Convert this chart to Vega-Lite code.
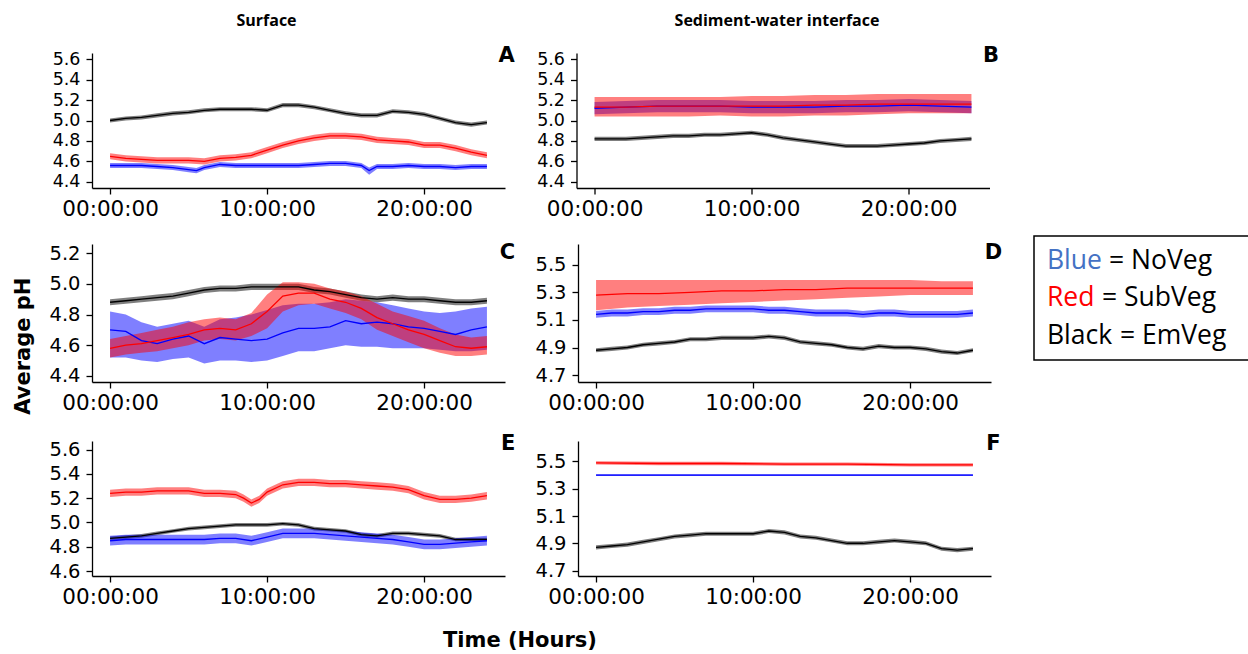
{
"$schema":"https://vega.github.io/schema/vega-lite/v6.json",
"padding":{"left":12,"top":12,"right":0,"bottom":0},
"background":"#ffffff",
"config":{
 "view":{"stroke":null},
 "axis":{"grid":false,"domainColor":"#000000","domainWidth":1.3,"tickColor":"#000000","tickWidth":1.3,"tickSize":6,"labelFont":"DejaVu Sans","labelFontSize":21.5,"labelColor":"#000000","labelOverlap":false,"labelFlush":false,"labelBound":false},
 "axisX":{"labelPadding":4},
 "axisY":{"labelPadding":6,"labelFontSize":19.5}
},
"datasets":{
"L":[{"p":"A"},{"p":"B"},{"p":"C"},{"p":"D"},{"p":"E"},{"p":"F"}],
"leg":[{"row":1,"word":"Blue","rest":"= NoVeg"},{"row":2,"word":"Red","rest":"= SubVeg"},{"row":3,"word":"Black","rest":"= EmVeg"}],
"d":[
{"p":"A","s":"EmVeg","t":0,"m":5.00,"lo":4.98,"hi":5.02},
{"p":"A","s":"EmVeg","t":1,"m":5.02,"lo":5.00,"hi":5.04},
{"p":"A","s":"EmVeg","t":2,"m":5.03,"lo":5.01,"hi":5.05},
{"p":"A","s":"EmVeg","t":3,"m":5.05,"lo":5.03,"hi":5.07},
{"p":"A","s":"EmVeg","t":4,"m":5.07,"lo":5.05,"hi":5.09},
{"p":"A","s":"EmVeg","t":5,"m":5.08,"lo":5.06,"hi":5.10},
{"p":"A","s":"EmVeg","t":6,"m":5.10,"lo":5.08,"hi":5.12},
{"p":"A","s":"EmVeg","t":7,"m":5.11,"lo":5.09,"hi":5.13},
{"p":"A","s":"EmVeg","t":8,"m":5.11,"lo":5.09,"hi":5.13},
{"p":"A","s":"EmVeg","t":9,"m":5.11,"lo":5.09,"hi":5.13},
{"p":"A","s":"EmVeg","t":10,"m":5.10,"lo":5.08,"hi":5.12},
{"p":"A","s":"EmVeg","t":11,"m":5.15,"lo":5.13,"hi":5.17},
{"p":"A","s":"EmVeg","t":12,"m":5.15,"lo":5.13,"hi":5.17},
{"p":"A","s":"EmVeg","t":13,"m":5.13,"lo":5.11,"hi":5.15},
{"p":"A","s":"EmVeg","t":14,"m":5.10,"lo":5.08,"hi":5.12},
{"p":"A","s":"EmVeg","t":15,"m":5.07,"lo":5.05,"hi":5.09},
{"p":"A","s":"EmVeg","t":16,"m":5.05,"lo":5.03,"hi":5.07},
{"p":"A","s":"EmVeg","t":17,"m":5.05,"lo":5.03,"hi":5.07},
{"p":"A","s":"EmVeg","t":18,"m":5.09,"lo":5.07,"hi":5.11},
{"p":"A","s":"EmVeg","t":19,"m":5.08,"lo":5.06,"hi":5.10},
{"p":"A","s":"EmVeg","t":20,"m":5.06,"lo":5.04,"hi":5.08},
{"p":"A","s":"EmVeg","t":21,"m":5.02,"lo":5.00,"hi":5.04},
{"p":"A","s":"EmVeg","t":22,"m":4.98,"lo":4.96,"hi":5.00},
{"p":"A","s":"EmVeg","t":23,"m":4.96,"lo":4.94,"hi":4.98},
{"p":"A","s":"EmVeg","t":24,"m":4.98,"lo":4.96,"hi":5.00},
{"p":"A","s":"NoVeg","t":0,"m":4.56,"lo":4.535,"hi":4.585},
{"p":"A","s":"NoVeg","t":1,"m":4.56,"lo":4.535,"hi":4.585},
{"p":"A","s":"NoVeg","t":2,"m":4.56,"lo":4.535,"hi":4.585},
{"p":"A","s":"NoVeg","t":3,"m":4.55,"lo":4.525,"hi":4.575},
{"p":"A","s":"NoVeg","t":4,"m":4.54,"lo":4.515,"hi":4.565},
{"p":"A","s":"NoVeg","t":5,"m":4.52,"lo":4.495,"hi":4.545},
{"p":"A","s":"NoVeg","t":5.5,"m":4.51,"lo":4.485,"hi":4.535},
{"p":"A","s":"NoVeg","t":6,"m":4.54,"lo":4.515,"hi":4.565},
{"p":"A","s":"NoVeg","t":7,"m":4.57,"lo":4.545,"hi":4.595},
{"p":"A","s":"NoVeg","t":8,"m":4.56,"lo":4.535,"hi":4.585},
{"p":"A","s":"NoVeg","t":9,"m":4.56,"lo":4.535,"hi":4.585},
{"p":"A","s":"NoVeg","t":10,"m":4.56,"lo":4.535,"hi":4.585},
{"p":"A","s":"NoVeg","t":11,"m":4.56,"lo":4.535,"hi":4.585},
{"p":"A","s":"NoVeg","t":12,"m":4.56,"lo":4.535,"hi":4.585},
{"p":"A","s":"NoVeg","t":13,"m":4.57,"lo":4.545,"hi":4.595},
{"p":"A","s":"NoVeg","t":14,"m":4.58,"lo":4.555,"hi":4.605},
{"p":"A","s":"NoVeg","t":15,"m":4.58,"lo":4.555,"hi":4.605},
{"p":"A","s":"NoVeg","t":16,"m":4.56,"lo":4.535,"hi":4.585},
{"p":"A","s":"NoVeg","t":16.5,"m":4.51,"lo":4.47,"hi":4.54},
{"p":"A","s":"NoVeg","t":17,"m":4.55,"lo":4.525,"hi":4.575},
{"p":"A","s":"NoVeg","t":18,"m":4.55,"lo":4.525,"hi":4.575},
{"p":"A","s":"NoVeg","t":19,"m":4.56,"lo":4.535,"hi":4.585},
{"p":"A","s":"NoVeg","t":20,"m":4.55,"lo":4.525,"hi":4.575},
{"p":"A","s":"NoVeg","t":21,"m":4.55,"lo":4.525,"hi":4.575},
{"p":"A","s":"NoVeg","t":22,"m":4.54,"lo":4.515,"hi":4.565},
{"p":"A","s":"NoVeg","t":23,"m":4.55,"lo":4.525,"hi":4.575},
{"p":"A","s":"NoVeg","t":24,"m":4.55,"lo":4.525,"hi":4.575},
{"p":"A","s":"SubVeg","t":0,"m":4.65,"lo":4.62,"hi":4.68},
{"p":"A","s":"SubVeg","t":1,"m":4.63,"lo":4.60,"hi":4.66},
{"p":"A","s":"SubVeg","t":2,"m":4.62,"lo":4.59,"hi":4.65},
{"p":"A","s":"SubVeg","t":3,"m":4.61,"lo":4.58,"hi":4.64},
{"p":"A","s":"SubVeg","t":4,"m":4.61,"lo":4.58,"hi":4.64},
{"p":"A","s":"SubVeg","t":5,"m":4.61,"lo":4.58,"hi":4.64},
{"p":"A","s":"SubVeg","t":6,"m":4.60,"lo":4.57,"hi":4.63},
{"p":"A","s":"SubVeg","t":7,"m":4.63,"lo":4.60,"hi":4.66},
{"p":"A","s":"SubVeg","t":8,"m":4.64,"lo":4.61,"hi":4.67},
{"p":"A","s":"SubVeg","t":9,"m":4.66,"lo":4.63,"hi":4.69},
{"p":"A","s":"SubVeg","t":10,"m":4.71,"lo":4.68,"hi":4.74},
{"p":"A","s":"SubVeg","t":11,"m":4.76,"lo":4.73,"hi":4.79},
{"p":"A","s":"SubVeg","t":12,"m":4.80,"lo":4.77,"hi":4.83},
{"p":"A","s":"SubVeg","t":13,"m":4.83,"lo":4.80,"hi":4.86},
{"p":"A","s":"SubVeg","t":14,"m":4.85,"lo":4.82,"hi":4.88},
{"p":"A","s":"SubVeg","t":15,"m":4.85,"lo":4.82,"hi":4.88},
{"p":"A","s":"SubVeg","t":16,"m":4.84,"lo":4.81,"hi":4.87},
{"p":"A","s":"SubVeg","t":17,"m":4.81,"lo":4.78,"hi":4.84},
{"p":"A","s":"SubVeg","t":18,"m":4.80,"lo":4.77,"hi":4.83},
{"p":"A","s":"SubVeg","t":19,"m":4.79,"lo":4.76,"hi":4.82},
{"p":"A","s":"SubVeg","t":20,"m":4.76,"lo":4.73,"hi":4.79},
{"p":"A","s":"SubVeg","t":21,"m":4.76,"lo":4.73,"hi":4.79},
{"p":"A","s":"SubVeg","t":22,"m":4.73,"lo":4.70,"hi":4.76},
{"p":"A","s":"SubVeg","t":23,"m":4.69,"lo":4.66,"hi":4.72},
{"p":"A","s":"SubVeg","t":24,"m":4.66,"lo":4.63,"hi":4.69},
{"p":"B","s":"EmVeg","t":0,"m":4.82,"lo":4.80,"hi":4.84},
{"p":"B","s":"EmVeg","t":1,"m":4.82,"lo":4.80,"hi":4.84},
{"p":"B","s":"EmVeg","t":2,"m":4.82,"lo":4.80,"hi":4.84},
{"p":"B","s":"EmVeg","t":3,"m":4.83,"lo":4.81,"hi":4.85},
{"p":"B","s":"EmVeg","t":4,"m":4.84,"lo":4.82,"hi":4.86},
{"p":"B","s":"EmVeg","t":5,"m":4.85,"lo":4.83,"hi":4.87},
{"p":"B","s":"EmVeg","t":6,"m":4.85,"lo":4.83,"hi":4.87},
{"p":"B","s":"EmVeg","t":7,"m":4.86,"lo":4.84,"hi":4.88},
{"p":"B","s":"EmVeg","t":8,"m":4.86,"lo":4.84,"hi":4.88},
{"p":"B","s":"EmVeg","t":9,"m":4.87,"lo":4.85,"hi":4.89},
{"p":"B","s":"EmVeg","t":10,"m":4.88,"lo":4.86,"hi":4.90},
{"p":"B","s":"EmVeg","t":11,"m":4.86,"lo":4.84,"hi":4.88},
{"p":"B","s":"EmVeg","t":12,"m":4.83,"lo":4.81,"hi":4.85},
{"p":"B","s":"EmVeg","t":13,"m":4.81,"lo":4.79,"hi":4.83},
{"p":"B","s":"EmVeg","t":14,"m":4.79,"lo":4.77,"hi":4.81},
{"p":"B","s":"EmVeg","t":15,"m":4.77,"lo":4.75,"hi":4.79},
{"p":"B","s":"EmVeg","t":16,"m":4.75,"lo":4.73,"hi":4.77},
{"p":"B","s":"EmVeg","t":17,"m":4.75,"lo":4.73,"hi":4.77},
{"p":"B","s":"EmVeg","t":18,"m":4.75,"lo":4.73,"hi":4.77},
{"p":"B","s":"EmVeg","t":19,"m":4.76,"lo":4.74,"hi":4.78},
{"p":"B","s":"EmVeg","t":20,"m":4.77,"lo":4.75,"hi":4.79},
{"p":"B","s":"EmVeg","t":21,"m":4.78,"lo":4.76,"hi":4.80},
{"p":"B","s":"EmVeg","t":22,"m":4.80,"lo":4.78,"hi":4.82},
{"p":"B","s":"EmVeg","t":23,"m":4.81,"lo":4.79,"hi":4.83},
{"p":"B","s":"EmVeg","t":24,"m":4.82,"lo":4.80,"hi":4.84},
{"p":"B","s":"NoVeg","t":0,"m":5.12,"lo":5.06,"hi":5.18},
{"p":"B","s":"NoVeg","t":2,"m":5.13,"lo":5.07,"hi":5.19},
{"p":"B","s":"NoVeg","t":4,"m":5.14,"lo":5.08,"hi":5.20},
{"p":"B","s":"NoVeg","t":6,"m":5.14,"lo":5.08,"hi":5.20},
{"p":"B","s":"NoVeg","t":8,"m":5.14,"lo":5.08,"hi":5.20},
{"p":"B","s":"NoVeg","t":10,"m":5.13,"lo":5.07,"hi":5.19},
{"p":"B","s":"NoVeg","t":12,"m":5.13,"lo":5.07,"hi":5.19},
{"p":"B","s":"NoVeg","t":14,"m":5.13,"lo":5.07,"hi":5.19},
{"p":"B","s":"NoVeg","t":16,"m":5.14,"lo":5.08,"hi":5.20},
{"p":"B","s":"NoVeg","t":18,"m":5.14,"lo":5.08,"hi":5.20},
{"p":"B","s":"NoVeg","t":20,"m":5.15,"lo":5.09,"hi":5.21},
{"p":"B","s":"NoVeg","t":22,"m":5.14,"lo":5.08,"hi":5.20},
{"p":"B","s":"NoVeg","t":24,"m":5.13,"lo":5.07,"hi":5.19},
{"p":"B","s":"SubVeg","t":0,"m":5.13,"lo":5.04,"hi":5.23},
{"p":"B","s":"SubVeg","t":2,"m":5.13,"lo":5.04,"hi":5.23},
{"p":"B","s":"SubVeg","t":4,"m":5.14,"lo":5.04,"hi":5.23},
{"p":"B","s":"SubVeg","t":6,"m":5.14,"lo":5.04,"hi":5.23},
{"p":"B","s":"SubVeg","t":8,"m":5.14,"lo":5.05,"hi":5.23},
{"p":"B","s":"SubVeg","t":10,"m":5.14,"lo":5.04,"hi":5.24},
{"p":"B","s":"SubVeg","t":12,"m":5.14,"lo":5.04,"hi":5.24},
{"p":"B","s":"SubVeg","t":14,"m":5.15,"lo":5.05,"hi":5.25},
{"p":"B","s":"SubVeg","t":16,"m":5.15,"lo":5.05,"hi":5.25},
{"p":"B","s":"SubVeg","t":18,"m":5.16,"lo":5.06,"hi":5.26},
{"p":"B","s":"SubVeg","t":20,"m":5.16,"lo":5.07,"hi":5.26},
{"p":"B","s":"SubVeg","t":22,"m":5.16,"lo":5.07,"hi":5.26},
{"p":"B","s":"SubVeg","t":24,"m":5.16,"lo":5.07,"hi":5.26},
{"p":"C","s":"EmVeg","t":0,"m":4.88,"lo":4.86,"hi":4.90},
{"p":"C","s":"EmVeg","t":1,"m":4.89,"lo":4.87,"hi":4.91},
{"p":"C","s":"EmVeg","t":2,"m":4.90,"lo":4.88,"hi":4.92},
{"p":"C","s":"EmVeg","t":3,"m":4.91,"lo":4.89,"hi":4.93},
{"p":"C","s":"EmVeg","t":4,"m":4.92,"lo":4.90,"hi":4.94},
{"p":"C","s":"EmVeg","t":5,"m":4.94,"lo":4.92,"hi":4.96},
{"p":"C","s":"EmVeg","t":6,"m":4.96,"lo":4.94,"hi":4.98},
{"p":"C","s":"EmVeg","t":7,"m":4.97,"lo":4.95,"hi":4.99},
{"p":"C","s":"EmVeg","t":8,"m":4.97,"lo":4.95,"hi":4.99},
{"p":"C","s":"EmVeg","t":9,"m":4.98,"lo":4.96,"hi":5.00},
{"p":"C","s":"EmVeg","t":10,"m":4.98,"lo":4.96,"hi":5.00},
{"p":"C","s":"EmVeg","t":11,"m":4.98,"lo":4.96,"hi":5.00},
{"p":"C","s":"EmVeg","t":12,"m":4.98,"lo":4.96,"hi":5.00},
{"p":"C","s":"EmVeg","t":13,"m":4.96,"lo":4.94,"hi":4.98},
{"p":"C","s":"EmVeg","t":14,"m":4.95,"lo":4.93,"hi":4.97},
{"p":"C","s":"EmVeg","t":15,"m":4.93,"lo":4.91,"hi":4.95},
{"p":"C","s":"EmVeg","t":16,"m":4.91,"lo":4.89,"hi":4.93},
{"p":"C","s":"EmVeg","t":17,"m":4.90,"lo":4.88,"hi":4.92},
{"p":"C","s":"EmVeg","t":18,"m":4.91,"lo":4.89,"hi":4.93},
{"p":"C","s":"EmVeg","t":19,"m":4.90,"lo":4.88,"hi":4.92},
{"p":"C","s":"EmVeg","t":20,"m":4.90,"lo":4.88,"hi":4.92},
{"p":"C","s":"EmVeg","t":21,"m":4.89,"lo":4.87,"hi":4.91},
{"p":"C","s":"EmVeg","t":22,"m":4.88,"lo":4.86,"hi":4.90},
{"p":"C","s":"EmVeg","t":23,"m":4.88,"lo":4.86,"hi":4.90},
{"p":"C","s":"EmVeg","t":24,"m":4.89,"lo":4.87,"hi":4.91},
{"p":"C","s":"NoVeg","t":0,"m":4.70,"lo":4.52,"hi":4.82},
{"p":"C","s":"NoVeg","t":1,"m":4.69,"lo":4.52,"hi":4.80},
{"p":"C","s":"NoVeg","t":2,"m":4.63,"lo":4.50,"hi":4.75},
{"p":"C","s":"NoVeg","t":3,"m":4.61,"lo":4.49,"hi":4.72},
{"p":"C","s":"NoVeg","t":4,"m":4.64,"lo":4.51,"hi":4.74},
{"p":"C","s":"NoVeg","t":5,"m":4.66,"lo":4.52,"hi":4.76},
{"p":"C","s":"NoVeg","t":6,"m":4.61,"lo":4.48,"hi":4.72},
{"p":"C","s":"NoVeg","t":7,"m":4.65,"lo":4.50,"hi":4.77},
{"p":"C","s":"NoVeg","t":8,"m":4.64,"lo":4.50,"hi":4.78},
{"p":"C","s":"NoVeg","t":9,"m":4.63,"lo":4.49,"hi":4.80},
{"p":"C","s":"NoVeg","t":10,"m":4.64,"lo":4.50,"hi":4.83},
{"p":"C","s":"NoVeg","t":11,"m":4.68,"lo":4.53,"hi":4.86},
{"p":"C","s":"NoVeg","t":12,"m":4.71,"lo":4.56,"hi":4.87},
{"p":"C","s":"NoVeg","t":13,"m":4.71,"lo":4.56,"hi":4.87},
{"p":"C","s":"NoVeg","t":14,"m":4.72,"lo":4.58,"hi":4.88},
{"p":"C","s":"NoVeg","t":15,"m":4.76,"lo":4.60,"hi":4.90},
{"p":"C","s":"NoVeg","t":16,"m":4.74,"lo":4.59,"hi":4.89},
{"p":"C","s":"NoVeg","t":17,"m":4.75,"lo":4.59,"hi":4.88},
{"p":"C","s":"NoVeg","t":18,"m":4.74,"lo":4.58,"hi":4.86},
{"p":"C","s":"NoVeg","t":19,"m":4.72,"lo":4.58,"hi":4.84},
{"p":"C","s":"NoVeg","t":20,"m":4.71,"lo":4.58,"hi":4.82},
{"p":"C","s":"NoVeg","t":21,"m":4.69,"lo":4.57,"hi":4.81},
{"p":"C","s":"NoVeg","t":22,"m":4.67,"lo":4.56,"hi":4.82},
{"p":"C","s":"NoVeg","t":23,"m":4.70,"lo":4.56,"hi":4.84},
{"p":"C","s":"NoVeg","t":24,"m":4.72,"lo":4.57,"hi":4.85},
{"p":"C","s":"SubVeg","t":0,"m":4.58,"lo":4.52,"hi":4.64},
{"p":"C","s":"SubVeg","t":1,"m":4.60,"lo":4.54,"hi":4.66},
{"p":"C","s":"SubVeg","t":2,"m":4.61,"lo":4.55,"hi":4.68},
{"p":"C","s":"SubVeg","t":3,"m":4.63,"lo":4.56,"hi":4.70},
{"p":"C","s":"SubVeg","t":4,"m":4.65,"lo":4.58,"hi":4.72},
{"p":"C","s":"SubVeg","t":5,"m":4.67,"lo":4.60,"hi":4.75},
{"p":"C","s":"SubVeg","t":6,"m":4.70,"lo":4.63,"hi":4.77},
{"p":"C","s":"SubVeg","t":7,"m":4.71,"lo":4.64,"hi":4.78},
{"p":"C","s":"SubVeg","t":8,"m":4.70,"lo":4.63,"hi":4.77},
{"p":"C","s":"SubVeg","t":9,"m":4.74,"lo":4.66,"hi":4.81},
{"p":"C","s":"SubVeg","t":10,"m":4.82,"lo":4.71,"hi":4.93},
{"p":"C","s":"SubVeg","t":11,"m":4.92,"lo":4.82,"hi":5.01},
{"p":"C","s":"SubVeg","t":12,"m":4.94,"lo":4.86,"hi":5.01},
{"p":"C","s":"SubVeg","t":13,"m":4.94,"lo":4.87,"hi":5.00},
{"p":"C","s":"SubVeg","t":14,"m":4.90,"lo":4.84,"hi":4.97},
{"p":"C","s":"SubVeg","t":15,"m":4.88,"lo":4.81,"hi":4.95},
{"p":"C","s":"SubVeg","t":16,"m":4.84,"lo":4.77,"hi":4.92},
{"p":"C","s":"SubVeg","t":17,"m":4.78,"lo":4.70,"hi":4.87},
{"p":"C","s":"SubVeg","t":18,"m":4.74,"lo":4.66,"hi":4.82},
{"p":"C","s":"SubVeg","t":19,"m":4.70,"lo":4.62,"hi":4.79},
{"p":"C","s":"SubVeg","t":20,"m":4.67,"lo":4.58,"hi":4.76},
{"p":"C","s":"SubVeg","t":21,"m":4.63,"lo":4.55,"hi":4.71},
{"p":"C","s":"SubVeg","t":22,"m":4.59,"lo":4.53,"hi":4.67},
{"p":"C","s":"SubVeg","t":23,"m":4.58,"lo":4.53,"hi":4.65},
{"p":"C","s":"SubVeg","t":24,"m":4.59,"lo":4.54,"hi":4.66},
{"p":"D","s":"EmVeg","t":0,"m":4.88,"lo":4.865,"hi":4.895},
{"p":"D","s":"EmVeg","t":1,"m":4.89,"lo":4.875,"hi":4.905},
{"p":"D","s":"EmVeg","t":2,"m":4.90,"lo":4.885,"hi":4.915},
{"p":"D","s":"EmVeg","t":3,"m":4.92,"lo":4.905,"hi":4.935},
{"p":"D","s":"EmVeg","t":4,"m":4.93,"lo":4.915,"hi":4.945},
{"p":"D","s":"EmVeg","t":5,"m":4.94,"lo":4.925,"hi":4.955},
{"p":"D","s":"EmVeg","t":6,"m":4.96,"lo":4.945,"hi":4.975},
{"p":"D","s":"EmVeg","t":7,"m":4.96,"lo":4.945,"hi":4.975},
{"p":"D","s":"EmVeg","t":8,"m":4.97,"lo":4.955,"hi":4.985},
{"p":"D","s":"EmVeg","t":9,"m":4.97,"lo":4.955,"hi":4.985},
{"p":"D","s":"EmVeg","t":10,"m":4.97,"lo":4.955,"hi":4.985},
{"p":"D","s":"EmVeg","t":11,"m":4.98,"lo":4.965,"hi":4.995},
{"p":"D","s":"EmVeg","t":12,"m":4.97,"lo":4.955,"hi":4.985},
{"p":"D","s":"EmVeg","t":13,"m":4.94,"lo":4.925,"hi":4.955},
{"p":"D","s":"EmVeg","t":14,"m":4.93,"lo":4.915,"hi":4.945},
{"p":"D","s":"EmVeg","t":15,"m":4.92,"lo":4.905,"hi":4.935},
{"p":"D","s":"EmVeg","t":16,"m":4.90,"lo":4.885,"hi":4.915},
{"p":"D","s":"EmVeg","t":17,"m":4.89,"lo":4.875,"hi":4.905},
{"p":"D","s":"EmVeg","t":18,"m":4.91,"lo":4.895,"hi":4.925},
{"p":"D","s":"EmVeg","t":19,"m":4.90,"lo":4.885,"hi":4.915},
{"p":"D","s":"EmVeg","t":20,"m":4.90,"lo":4.885,"hi":4.915},
{"p":"D","s":"EmVeg","t":21,"m":4.89,"lo":4.875,"hi":4.905},
{"p":"D","s":"EmVeg","t":22,"m":4.87,"lo":4.855,"hi":4.885},
{"p":"D","s":"EmVeg","t":23,"m":4.86,"lo":4.845,"hi":4.875},
{"p":"D","s":"EmVeg","t":24,"m":4.88,"lo":4.865,"hi":4.895},
{"p":"D","s":"NoVeg","t":0,"m":5.14,"lo":5.115,"hi":5.165},
{"p":"D","s":"NoVeg","t":1,"m":5.15,"lo":5.125,"hi":5.175},
{"p":"D","s":"NoVeg","t":2,"m":5.15,"lo":5.125,"hi":5.175},
{"p":"D","s":"NoVeg","t":3,"m":5.16,"lo":5.135,"hi":5.185},
{"p":"D","s":"NoVeg","t":4,"m":5.16,"lo":5.135,"hi":5.185},
{"p":"D","s":"NoVeg","t":5,"m":5.17,"lo":5.145,"hi":5.195},
{"p":"D","s":"NoVeg","t":6,"m":5.17,"lo":5.145,"hi":5.195},
{"p":"D","s":"NoVeg","t":7,"m":5.18,"lo":5.155,"hi":5.205},
{"p":"D","s":"NoVeg","t":8,"m":5.18,"lo":5.155,"hi":5.205},
{"p":"D","s":"NoVeg","t":9,"m":5.18,"lo":5.155,"hi":5.205},
{"p":"D","s":"NoVeg","t":10,"m":5.18,"lo":5.155,"hi":5.205},
{"p":"D","s":"NoVeg","t":11,"m":5.17,"lo":5.145,"hi":5.195},
{"p":"D","s":"NoVeg","t":12,"m":5.17,"lo":5.145,"hi":5.195},
{"p":"D","s":"NoVeg","t":13,"m":5.16,"lo":5.135,"hi":5.185},
{"p":"D","s":"NoVeg","t":14,"m":5.15,"lo":5.125,"hi":5.175},
{"p":"D","s":"NoVeg","t":15,"m":5.15,"lo":5.125,"hi":5.175},
{"p":"D","s":"NoVeg","t":16,"m":5.15,"lo":5.125,"hi":5.175},
{"p":"D","s":"NoVeg","t":17,"m":5.14,"lo":5.115,"hi":5.165},
{"p":"D","s":"NoVeg","t":18,"m":5.15,"lo":5.125,"hi":5.175},
{"p":"D","s":"NoVeg","t":19,"m":5.15,"lo":5.125,"hi":5.175},
{"p":"D","s":"NoVeg","t":20,"m":5.14,"lo":5.115,"hi":5.165},
{"p":"D","s":"NoVeg","t":21,"m":5.14,"lo":5.115,"hi":5.165},
{"p":"D","s":"NoVeg","t":22,"m":5.14,"lo":5.115,"hi":5.165},
{"p":"D","s":"NoVeg","t":23,"m":5.14,"lo":5.115,"hi":5.165},
{"p":"D","s":"NoVeg","t":24,"m":5.15,"lo":5.125,"hi":5.175},
{"p":"D","s":"SubVeg","t":0,"m":5.28,"lo":5.17,"hi":5.39},
{"p":"D","s":"SubVeg","t":2,"m":5.29,"lo":5.19,"hi":5.39},
{"p":"D","s":"SubVeg","t":4,"m":5.29,"lo":5.20,"hi":5.39},
{"p":"D","s":"SubVeg","t":6,"m":5.30,"lo":5.21,"hi":5.39},
{"p":"D","s":"SubVeg","t":8,"m":5.31,"lo":5.22,"hi":5.39},
{"p":"D","s":"SubVeg","t":10,"m":5.31,"lo":5.23,"hi":5.39},
{"p":"D","s":"SubVeg","t":12,"m":5.32,"lo":5.24,"hi":5.39},
{"p":"D","s":"SubVeg","t":14,"m":5.32,"lo":5.25,"hi":5.39},
{"p":"D","s":"SubVeg","t":16,"m":5.33,"lo":5.26,"hi":5.39},
{"p":"D","s":"SubVeg","t":18,"m":5.33,"lo":5.27,"hi":5.39},
{"p":"D","s":"SubVeg","t":20,"m":5.33,"lo":5.28,"hi":5.39},
{"p":"D","s":"SubVeg","t":22,"m":5.33,"lo":5.28,"hi":5.38},
{"p":"D","s":"SubVeg","t":24,"m":5.33,"lo":5.28,"hi":5.38},
{"p":"E","s":"EmVeg","t":0,"m":4.87,"lo":4.855,"hi":4.885},
{"p":"E","s":"EmVeg","t":1,"m":4.88,"lo":4.865,"hi":4.895},
{"p":"E","s":"EmVeg","t":2,"m":4.89,"lo":4.875,"hi":4.905},
{"p":"E","s":"EmVeg","t":3,"m":4.91,"lo":4.895,"hi":4.925},
{"p":"E","s":"EmVeg","t":4,"m":4.93,"lo":4.915,"hi":4.945},
{"p":"E","s":"EmVeg","t":5,"m":4.95,"lo":4.935,"hi":4.965},
{"p":"E","s":"EmVeg","t":6,"m":4.96,"lo":4.945,"hi":4.975},
{"p":"E","s":"EmVeg","t":7,"m":4.97,"lo":4.955,"hi":4.985},
{"p":"E","s":"EmVeg","t":8,"m":4.98,"lo":4.965,"hi":4.995},
{"p":"E","s":"EmVeg","t":9,"m":4.98,"lo":4.965,"hi":4.995},
{"p":"E","s":"EmVeg","t":10,"m":4.98,"lo":4.965,"hi":4.995},
{"p":"E","s":"EmVeg","t":11,"m":4.99,"lo":4.975,"hi":5.005},
{"p":"E","s":"EmVeg","t":12,"m":4.98,"lo":4.965,"hi":4.995},
{"p":"E","s":"EmVeg","t":13,"m":4.95,"lo":4.935,"hi":4.965},
{"p":"E","s":"EmVeg","t":14,"m":4.94,"lo":4.925,"hi":4.955},
{"p":"E","s":"EmVeg","t":15,"m":4.93,"lo":4.915,"hi":4.945},
{"p":"E","s":"EmVeg","t":16,"m":4.90,"lo":4.885,"hi":4.915},
{"p":"E","s":"EmVeg","t":17,"m":4.89,"lo":4.875,"hi":4.905},
{"p":"E","s":"EmVeg","t":18,"m":4.91,"lo":4.895,"hi":4.925},
{"p":"E","s":"EmVeg","t":19,"m":4.91,"lo":4.895,"hi":4.925},
{"p":"E","s":"EmVeg","t":20,"m":4.90,"lo":4.885,"hi":4.915},
{"p":"E","s":"EmVeg","t":21,"m":4.89,"lo":4.875,"hi":4.905},
{"p":"E","s":"EmVeg","t":22,"m":4.86,"lo":4.845,"hi":4.875},
{"p":"E","s":"EmVeg","t":23,"m":4.86,"lo":4.845,"hi":4.875},
{"p":"E","s":"EmVeg","t":24,"m":4.86,"lo":4.845,"hi":4.875},
{"p":"E","s":"NoVeg","t":0,"m":4.85,"lo":4.81,"hi":4.89},
{"p":"E","s":"NoVeg","t":1,"m":4.86,"lo":4.82,"hi":4.90},
{"p":"E","s":"NoVeg","t":2,"m":4.86,"lo":4.82,"hi":4.90},
{"p":"E","s":"NoVeg","t":3,"m":4.86,"lo":4.82,"hi":4.90},
{"p":"E","s":"NoVeg","t":4,"m":4.86,"lo":4.82,"hi":4.90},
{"p":"E","s":"NoVeg","t":5,"m":4.86,"lo":4.82,"hi":4.90},
{"p":"E","s":"NoVeg","t":6,"m":4.86,"lo":4.82,"hi":4.90},
{"p":"E","s":"NoVeg","t":7,"m":4.87,"lo":4.83,"hi":4.91},
{"p":"E","s":"NoVeg","t":8,"m":4.87,"lo":4.83,"hi":4.91},
{"p":"E","s":"NoVeg","t":9,"m":4.85,"lo":4.81,"hi":4.89},
{"p":"E","s":"NoVeg","t":10,"m":4.88,"lo":4.84,"hi":4.92},
{"p":"E","s":"NoVeg","t":11,"m":4.91,"lo":4.87,"hi":4.95},
{"p":"E","s":"NoVeg","t":12,"m":4.91,"lo":4.87,"hi":4.95},
{"p":"E","s":"NoVeg","t":13,"m":4.91,"lo":4.87,"hi":4.95},
{"p":"E","s":"NoVeg","t":14,"m":4.90,"lo":4.86,"hi":4.94},
{"p":"E","s":"NoVeg","t":15,"m":4.89,"lo":4.85,"hi":4.93},
{"p":"E","s":"NoVeg","t":16,"m":4.88,"lo":4.84,"hi":4.92},
{"p":"E","s":"NoVeg","t":17,"m":4.87,"lo":4.83,"hi":4.91},
{"p":"E","s":"NoVeg","t":18,"m":4.86,"lo":4.82,"hi":4.90},
{"p":"E","s":"NoVeg","t":19,"m":4.84,"lo":4.80,"hi":4.88},
{"p":"E","s":"NoVeg","t":20,"m":4.82,"lo":4.78,"hi":4.86},
{"p":"E","s":"NoVeg","t":21,"m":4.82,"lo":4.78,"hi":4.86},
{"p":"E","s":"NoVeg","t":22,"m":4.83,"lo":4.79,"hi":4.87},
{"p":"E","s":"NoVeg","t":23,"m":4.84,"lo":4.80,"hi":4.88},
{"p":"E","s":"NoVeg","t":24,"m":4.85,"lo":4.81,"hi":4.89},
{"p":"E","s":"SubVeg","t":0,"m":5.24,"lo":5.21,"hi":5.27},
{"p":"E","s":"SubVeg","t":1,"m":5.25,"lo":5.22,"hi":5.28},
{"p":"E","s":"SubVeg","t":2,"m":5.25,"lo":5.22,"hi":5.28},
{"p":"E","s":"SubVeg","t":3,"m":5.26,"lo":5.23,"hi":5.29},
{"p":"E","s":"SubVeg","t":4,"m":5.26,"lo":5.23,"hi":5.29},
{"p":"E","s":"SubVeg","t":5,"m":5.26,"lo":5.23,"hi":5.29},
{"p":"E","s":"SubVeg","t":6,"m":5.24,"lo":5.21,"hi":5.27},
{"p":"E","s":"SubVeg","t":7,"m":5.24,"lo":5.21,"hi":5.27},
{"p":"E","s":"SubVeg","t":8,"m":5.23,"lo":5.20,"hi":5.26},
{"p":"E","s":"SubVeg","t":8.5,"m":5.20,"lo":5.17,"hi":5.23},
{"p":"E","s":"SubVeg","t":9,"m":5.16,"lo":5.13,"hi":5.19},
{"p":"E","s":"SubVeg","t":9.5,"m":5.19,"lo":5.16,"hi":5.22},
{"p":"E","s":"SubVeg","t":10,"m":5.25,"lo":5.22,"hi":5.28},
{"p":"E","s":"SubVeg","t":11,"m":5.31,"lo":5.28,"hi":5.34},
{"p":"E","s":"SubVeg","t":12,"m":5.33,"lo":5.30,"hi":5.36},
{"p":"E","s":"SubVeg","t":13,"m":5.33,"lo":5.30,"hi":5.36},
{"p":"E","s":"SubVeg","t":14,"m":5.32,"lo":5.29,"hi":5.35},
{"p":"E","s":"SubVeg","t":15,"m":5.32,"lo":5.29,"hi":5.35},
{"p":"E","s":"SubVeg","t":16,"m":5.31,"lo":5.28,"hi":5.34},
{"p":"E","s":"SubVeg","t":17,"m":5.30,"lo":5.27,"hi":5.33},
{"p":"E","s":"SubVeg","t":18,"m":5.29,"lo":5.26,"hi":5.32},
{"p":"E","s":"SubVeg","t":19,"m":5.27,"lo":5.24,"hi":5.30},
{"p":"E","s":"SubVeg","t":20,"m":5.22,"lo":5.19,"hi":5.25},
{"p":"E","s":"SubVeg","t":21,"m":5.19,"lo":5.16,"hi":5.22},
{"p":"E","s":"SubVeg","t":22,"m":5.19,"lo":5.16,"hi":5.22},
{"p":"E","s":"SubVeg","t":23,"m":5.20,"lo":5.17,"hi":5.23},
{"p":"E","s":"SubVeg","t":24,"m":5.22,"lo":5.19,"hi":5.25},
{"p":"F","s":"EmVeg","t":0,"m":4.87,"lo":4.855,"hi":4.885},
{"p":"F","s":"EmVeg","t":1,"m":4.88,"lo":4.865,"hi":4.895},
{"p":"F","s":"EmVeg","t":2,"m":4.89,"lo":4.875,"hi":4.905},
{"p":"F","s":"EmVeg","t":3,"m":4.91,"lo":4.895,"hi":4.925},
{"p":"F","s":"EmVeg","t":4,"m":4.93,"lo":4.915,"hi":4.945},
{"p":"F","s":"EmVeg","t":5,"m":4.95,"lo":4.935,"hi":4.965},
{"p":"F","s":"EmVeg","t":6,"m":4.96,"lo":4.945,"hi":4.975},
{"p":"F","s":"EmVeg","t":7,"m":4.97,"lo":4.955,"hi":4.985},
{"p":"F","s":"EmVeg","t":8,"m":4.97,"lo":4.955,"hi":4.985},
{"p":"F","s":"EmVeg","t":9,"m":4.97,"lo":4.955,"hi":4.985},
{"p":"F","s":"EmVeg","t":10,"m":4.97,"lo":4.955,"hi":4.985},
{"p":"F","s":"EmVeg","t":11,"m":4.99,"lo":4.975,"hi":5.005},
{"p":"F","s":"EmVeg","t":12,"m":4.98,"lo":4.965,"hi":4.995},
{"p":"F","s":"EmVeg","t":13,"m":4.95,"lo":4.935,"hi":4.965},
{"p":"F","s":"EmVeg","t":14,"m":4.94,"lo":4.925,"hi":4.955},
{"p":"F","s":"EmVeg","t":15,"m":4.92,"lo":4.905,"hi":4.935},
{"p":"F","s":"EmVeg","t":16,"m":4.90,"lo":4.885,"hi":4.915},
{"p":"F","s":"EmVeg","t":17,"m":4.90,"lo":4.885,"hi":4.915},
{"p":"F","s":"EmVeg","t":18,"m":4.91,"lo":4.895,"hi":4.925},
{"p":"F","s":"EmVeg","t":19,"m":4.92,"lo":4.905,"hi":4.935},
{"p":"F","s":"EmVeg","t":20,"m":4.91,"lo":4.895,"hi":4.925},
{"p":"F","s":"EmVeg","t":21,"m":4.90,"lo":4.885,"hi":4.915},
{"p":"F","s":"EmVeg","t":22,"m":4.86,"lo":4.845,"hi":4.875},
{"p":"F","s":"EmVeg","t":23,"m":4.85,"lo":4.835,"hi":4.865},
{"p":"F","s":"EmVeg","t":24,"m":4.86,"lo":4.845,"hi":4.875},
{"p":"F","s":"NoVeg","t":0,"m":5.40,"lo":5.394,"hi":5.406},
{"p":"F","s":"NoVeg","t":6,"m":5.40,"lo":5.394,"hi":5.406},
{"p":"F","s":"NoVeg","t":12,"m":5.40,"lo":5.394,"hi":5.406},
{"p":"F","s":"NoVeg","t":18,"m":5.40,"lo":5.394,"hi":5.406},
{"p":"F","s":"NoVeg","t":24,"m":5.40,"lo":5.394,"hi":5.406},
{"p":"F","s":"SubVeg","t":0,"m":5.49,"lo":5.478,"hi":5.502},
{"p":"F","s":"SubVeg","t":4,"m":5.485,"lo":5.473,"hi":5.497},
{"p":"F","s":"SubVeg","t":8,"m":5.485,"lo":5.473,"hi":5.497},
{"p":"F","s":"SubVeg","t":12,"m":5.48,"lo":5.468,"hi":5.492},
{"p":"F","s":"SubVeg","t":16,"m":5.48,"lo":5.468,"hi":5.492},
{"p":"F","s":"SubVeg","t":20,"m":5.475,"lo":5.463,"hi":5.487},
{"p":"F","s":"SubVeg","t":24,"m":5.475,"lo":5.463,"hi":5.487}
]},
"title":{"text":"Time (Hours)","orient":"bottom","anchor":"start","dx":430,"offset":22,"baseline":"top","font":"DejaVu Sans","fontWeight":"bold","fontSize":21,"color":"#000000"},
"vconcat":[{
 "title":{"text":"Average pH","orient":"left","anchor":"middle","offset":15,"dx":-36,"font":"DejaVu Sans","fontWeight":"bold","fontSize":21,"color":"#000000"},
 "spacing":15,
 "vconcat":[
 {"spacing":21.5,"hconcat":[
  {"width":413,"height":135,
   "title":{"text":"Surface","frame":"group","dx":-32,"offset":16,"font":"Open Sans","fontWeight":"bold","fontSize":16,"color":"#000000"},
   "layer":[
    {"data":{"name":"d"},"transform":[{"filter":"datum.p==='A'"}],"mark":{"type":"area","opacity":0.5},"encoding":{
      "x":{"field":"t","type":"quantitative","title":null,"scale":{"domain":[-1.15,25.15],"nice":false,"zero":false},"axis":{"values":[0,10,20],"tickCount":30,"labelExpr":"datum.value==0?'00:00:00':datum.value+':00:00'"}},
      "y":{"field":"lo","type":"quantitative","title":null,"scale":{"domain":[4.34,5.66],"nice":false,"zero":false},"axis":{"values":[4.4,4.6,4.8,5.0,5.2,5.4,5.6],"tickCount":30,"format":".1f","labelFontSize":17.5}},
      "y2":{"field":"hi"},
      "color":{"field":"s","type":"nominal","scale":{"domain":["EmVeg","NoVeg","SubVeg"],"range":["#000000","#0000ff","#ff0000"]},"legend":null}}},
    {"data":{"name":"d"},"transform":[{"filter":"datum.p==='A'"}],"mark":{"type":"line","strokeWidth":1.3},"encoding":{
      "x":{"field":"t","type":"quantitative","title":null},
      "y":{"field":"m","type":"quantitative","title":null},
      "color":{"field":"s","type":"nominal","legend":null}}},
    {"data":{"name":"L"},"transform":[{"filter":"datum.p==='A'"}],"mark":{"type":"text","font":"DejaVu Sans","fontWeight":"bold","fontSize":21,"align":"center","baseline":"middle","color":"#000000"},
     "encoding":{"x":{"datum":25.25,"type":"quantitative"},"y":{"datum":5.633,"type":"quantitative"},"text":{"field":"p","type":"nominal"}}}
   ]},
  {"width":413,"height":135,
   "title":{"text":"Sediment-water interface","frame":"group","dx":-6,"offset":16,"font":"Open Sans","fontWeight":"bold","fontSize":16,"color":"#000000"},
   "layer":[
    {"data":{"name":"d"},"transform":[{"filter":"datum.p==='B'"}],"mark":{"type":"area","opacity":0.5},"encoding":{
      "x":{"field":"t","type":"quantitative","title":null,"scale":{"domain":[-1.15,25.15],"nice":false,"zero":false},"axis":{"values":[0,10,20],"tickCount":30,"labelExpr":"datum.value==0?'00:00:00':datum.value+':00:00'"}},
      "y":{"field":"lo","type":"quantitative","title":null,"scale":{"domain":[4.34,5.66],"nice":false,"zero":false},"axis":{"values":[4.4,4.6,4.8,5.0,5.2,5.4,5.6],"tickCount":30,"format":".1f","labelFontSize":17.5}},
      "y2":{"field":"hi"},
      "color":{"field":"s","type":"nominal","scale":{"domain":["EmVeg","NoVeg","SubVeg"],"range":["#000000","#0000ff","#ff0000"]},"legend":null}}},
    {"data":{"name":"d"},"transform":[{"filter":"datum.p==='B'"}],"mark":{"type":"line","strokeWidth":1.3},"encoding":{
      "x":{"field":"t","type":"quantitative","title":null},
      "y":{"field":"m","type":"quantitative","title":null},
      "color":{"field":"s","type":"nominal","legend":null}}},
    {"data":{"name":"L"},"transform":[{"filter":"datum.p==='B'"}],"mark":{"type":"text","font":"DejaVu Sans","fontWeight":"bold","fontSize":21,"align":"center","baseline":"middle","color":"#000000"},
     "encoding":{"x":{"datum":25.25,"type":"quantitative"},"y":{"datum":5.633,"type":"quantitative"},"text":{"field":"p","type":"nominal"}}}
   ]}
 ]},
 {"spacing":18,"vconcat":[
 {"spacing":30,"hconcat":[
  {"spacing":18,"hconcat":[
   {"width":413,"height":138,
    "layer":[
     {"data":{"name":"d"},"transform":[{"filter":"datum.p==='C'"}],"mark":{"type":"area","opacity":0.5},"encoding":{
       "x":{"field":"t","type":"quantitative","title":null,"scale":{"domain":[-1.15,25.15],"nice":false,"zero":false},"axis":{"values":[0,10,20],"tickCount":30,"labelExpr":"datum.value==0?'00:00:00':datum.value+':00:00'"}},
       "y":{"field":"lo","type":"quantitative","title":null,"scale":{"domain":[4.36,5.26],"nice":false,"zero":false},"axis":{"values":[4.4,4.6,4.8,5.0,5.2],"tickCount":30,"format":".1f"}},
       "y2":{"field":"hi"},
       "color":{"field":"s","type":"nominal","scale":{"domain":["EmVeg","NoVeg","SubVeg"],"range":["#000000","#0000ff","#ff0000"]},"legend":null}}},
     {"data":{"name":"d"},"transform":[{"filter":"datum.p==='C'"}],"mark":{"type":"line","strokeWidth":1.3},"encoding":{
       "x":{"field":"t","type":"quantitative","title":null},
       "y":{"field":"m","type":"quantitative","title":null},
       "color":{"field":"s","type":"nominal","legend":null}}},
     {"data":{"name":"L"},"transform":[{"filter":"datum.p==='C'"}],"mark":{"type":"text","font":"DejaVu Sans","fontWeight":"bold","fontSize":21,"align":"center","baseline":"middle","color":"#000000"},
      "encoding":{"x":{"datum":25.3,"type":"quantitative"},"y":{"datum":5.2,"type":"quantitative"},"text":{"field":"p","type":"nominal"}}}
    ]},
   {"width":413,"height":138,
    "layer":[
     {"data":{"name":"d"},"transform":[{"filter":"datum.p==='D'"}],"mark":{"type":"area","opacity":0.5},"encoding":{
       "x":{"field":"t","type":"quantitative","title":null,"scale":{"domain":[-1.15,25.15],"nice":false,"zero":false},"axis":{"values":[0,10,20],"tickCount":30,"labelExpr":"datum.value==0?'00:00:00':datum.value+':00:00'"}},
       "y":{"field":"lo","type":"quantitative","title":null,"scale":{"domain":[4.65,5.65],"nice":false,"zero":false},"axis":{"values":[4.7,4.9,5.1,5.3,5.5],"tickCount":30,"format":".1f"}},
       "y2":{"field":"hi"},
       "color":{"field":"s","type":"nominal","scale":{"domain":["EmVeg","NoVeg","SubVeg"],"range":["#000000","#0000ff","#ff0000"]},"legend":null}}},
     {"data":{"name":"d"},"transform":[{"filter":"datum.p==='D'"}],"mark":{"type":"line","strokeWidth":1.3},"encoding":{
       "x":{"field":"t","type":"quantitative","title":null},
       "y":{"field":"m","type":"quantitative","title":null},
       "color":{"field":"s","type":"nominal","legend":null}}},
     {"data":{"name":"L"},"transform":[{"filter":"datum.p==='D'"}],"mark":{"type":"text","font":"DejaVu Sans","fontWeight":"bold","fontSize":21,"align":"center","baseline":"middle","color":"#000000"},
      "encoding":{"x":{"datum":25.3,"type":"quantitative"},"y":{"datum":5.585,"type":"quantitative"},"text":{"field":"p","type":"nominal"}}}
    ]}
  ]},
  {"width":215,"height":124,
   "layer":[
    {"data":{"name":"leg"},"transform":[{"filter":"datum.row===1"}],"mark":{"type":"rect","fill":"transparent","stroke":"#000000","strokeWidth":1.5},
     "encoding":{
      "x":{"datum":0,"type":"quantitative","scale":{"domain":[0,1],"nice":false,"zero":false},"axis":null},
      "x2":{"datum":1},
      "y":{"datum":0.333,"type":"quantitative","scale":{"domain":[0.547,3.853],"reverse":true,"nice":false,"zero":false},"axis":null},
      "y2":{"datum":3.64}}},
    {"data":{"name":"leg"},"mark":{"type":"text","font":"Open Sans","fontSize":26.5,"align":"left","baseline":"middle"},
     "encoding":{
      "x":{"datum":0.06,"type":"quantitative"},
      "y":{"field":"row","type":"quantitative"},
      "text":{"field":"word","type":"nominal"},
      "color":{"condition":[{"test":"datum.word==='Blue'","value":"#4472C4"},{"test":"datum.word==='Red'","value":"#FF0000"}],"value":"#000000"}}},
    {"data":{"name":"leg"},"transform":[{"filter":"datum.row===1"}],"mark":{"type":"text","font":"Open Sans","fontSize":26.5,"align":"left","baseline":"middle","color":"#000000"},
     "encoding":{"x":{"datum":0.349,"type":"quantitative"},"y":{"field":"row","type":"quantitative"},"text":{"field":"rest","type":"nominal"}}},
    {"data":{"name":"leg"},"transform":[{"filter":"datum.row===2"}],"mark":{"type":"text","font":"Open Sans","fontSize":26.5,"align":"left","baseline":"middle","color":"#000000"},
     "encoding":{"x":{"datum":0.316,"type":"quantitative"},"y":{"field":"row","type":"quantitative"},"text":{"field":"rest","type":"nominal"}}},
    {"data":{"name":"leg"},"transform":[{"filter":"datum.row===3"}],"mark":{"type":"text","font":"Open Sans","fontSize":26.5,"align":"left","baseline":"middle","color":"#000000"},
     "encoding":{"x":{"datum":0.40,"type":"quantitative"},"y":{"field":"row","type":"quantitative"},"text":{"field":"rest","type":"nominal"}}}
   ]}
 ]},
 {"spacing":18,"hconcat":[
  {"width":413,"height":135,
   "layer":[
    {"data":{"name":"d"},"transform":[{"filter":"datum.p==='E'"}],"mark":{"type":"area","opacity":0.5},"encoding":{
      "x":{"field":"t","type":"quantitative","title":null,"scale":{"domain":[-1.15,25.15],"nice":false,"zero":false},"axis":{"values":[0,10,20],"tickCount":30,"labelExpr":"datum.value==0?'00:00:00':datum.value+':00:00'"}},
      "y":{"field":"lo","type":"quantitative","title":null,"scale":{"domain":[4.56,5.67],"nice":false,"zero":false},"axis":{"values":[4.6,4.8,5.0,5.2,5.4,5.6],"tickCount":30,"format":".1f"}},
      "y2":{"field":"hi"},
      "color":{"field":"s","type":"nominal","scale":{"domain":["EmVeg","NoVeg","SubVeg"],"range":["#000000","#0000ff","#ff0000"]},"legend":null}}},
    {"data":{"name":"d"},"transform":[{"filter":"datum.p==='E'"}],"mark":{"type":"line","strokeWidth":1.3},"encoding":{
      "x":{"field":"t","type":"quantitative","title":null},
      "y":{"field":"m","type":"quantitative","title":null},
      "color":{"field":"s","type":"nominal","legend":null}}},
    {"data":{"name":"L"},"transform":[{"filter":"datum.p==='E'"}],"mark":{"type":"text","font":"DejaVu Sans","fontWeight":"bold","fontSize":21,"align":"center","baseline":"middle","color":"#000000"},
     "encoding":{"x":{"datum":25.35,"type":"quantitative"},"y":{"datum":5.647,"type":"quantitative"},"text":{"field":"p","type":"nominal"}}}
   ]},
  {"width":413,"height":135,
   "layer":[
    {"data":{"name":"d"},"transform":[{"filter":"datum.p==='F'"}],"mark":{"type":"area","opacity":0.5},"encoding":{
      "x":{"field":"t","type":"quantitative","title":null,"scale":{"domain":[-1.15,25.15],"nice":false,"zero":false},"axis":{"values":[0,10,20],"tickCount":30,"labelExpr":"datum.value==0?'00:00:00':datum.value+':00:00'"}},
      "y":{"field":"lo","type":"quantitative","title":null,"scale":{"domain":[4.66,5.65],"nice":false,"zero":false},"axis":{"values":[4.7,4.9,5.1,5.3,5.5],"tickCount":30,"format":".1f"}},
      "y2":{"field":"hi"},
      "color":{"field":"s","type":"nominal","scale":{"domain":["EmVeg","NoVeg","SubVeg"],"range":["#000000","#0000ff","#ff0000"]},"legend":null}}},
    {"data":{"name":"d"},"transform":[{"filter":"datum.p==='F'"}],"mark":{"type":"line","strokeWidth":1.3},"encoding":{
      "x":{"field":"t","type":"quantitative","title":null},
      "y":{"field":"m","type":"quantitative","title":null},
      "color":{"field":"s","type":"nominal","legend":null}}},
    {"data":{"name":"L"},"transform":[{"filter":"datum.p==='F'"}],"mark":{"type":"text","font":"DejaVu Sans","fontWeight":"bold","fontSize":21,"align":"center","baseline":"middle","color":"#000000"},
     "encoding":{"x":{"datum":25.3,"type":"quantitative"},"y":{"datum":5.627,"type":"quantitative"},"text":{"field":"p","type":"nominal"}}}
   ]}
 ]}
 ]}
 ]}
]
}
